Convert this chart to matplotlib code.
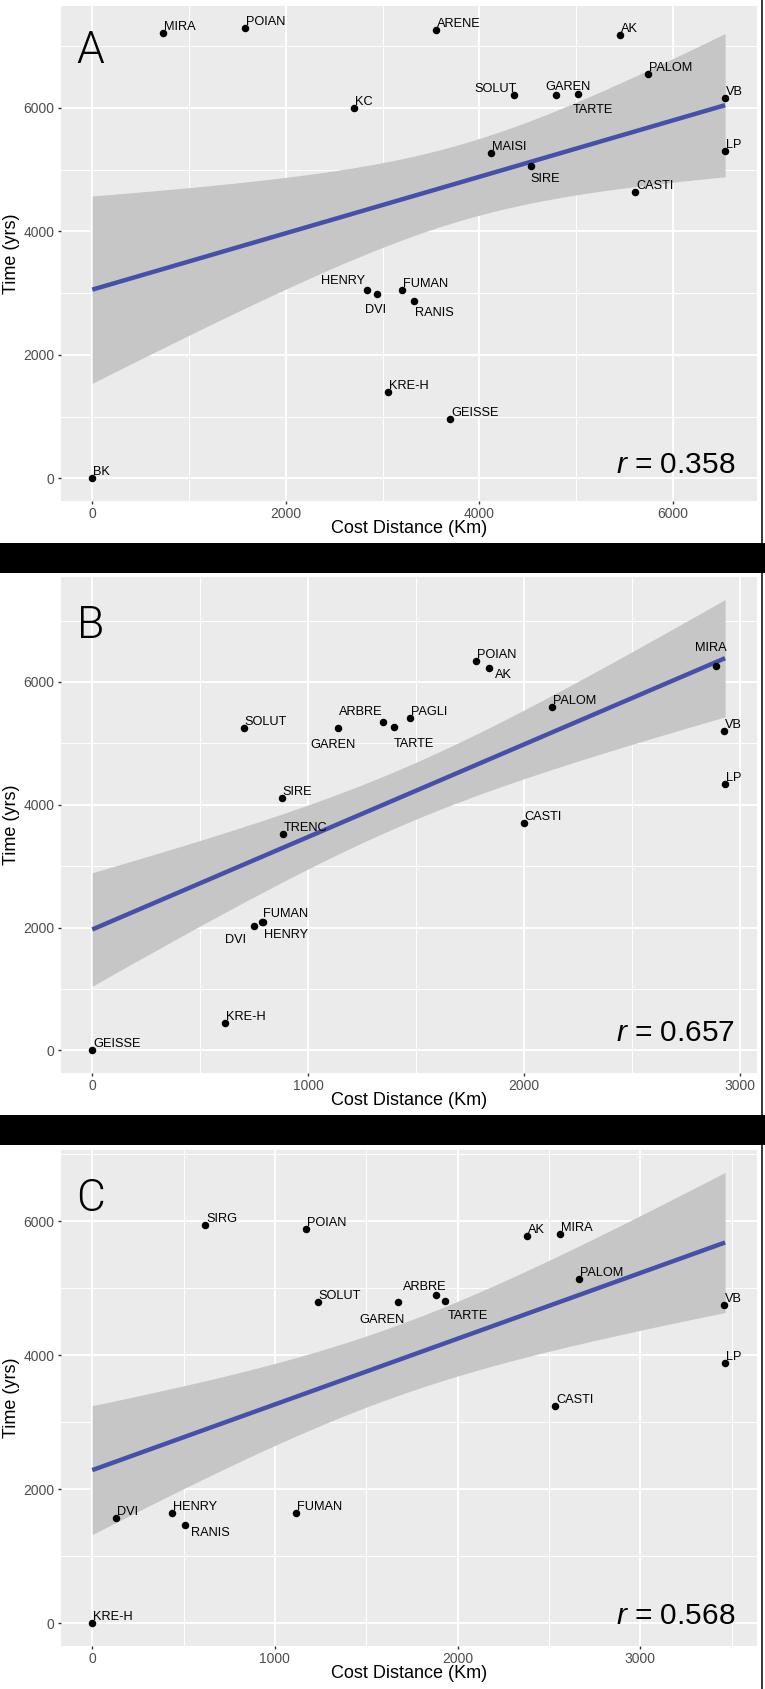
import numpy as np
import matplotlib.pyplot as plt
from matplotlib.patches import Rectangle
from matplotlib.ticker import MultipleLocator

plt.rcParams['font.family'] = ['Liberation Sans', 'DejaVu Sans']
plt.rcParams['mathtext.fontset'] = 'custom'
plt.rcParams['mathtext.it'] = 'Liberation Sans:italic'
plt.rcParams['mathtext.rm'] = 'Liberation Sans'

# Panel A
a_sites = ['MIRA', 'POIAN', 'ARENE', 'AK', 'PALOM', 'SOLUT', 'GAREN', 'TARTE', 'VB', 'KC', 'MAISI',
           'SIRE', 'LP', 'CASTI', 'HENRY', 'DVI', 'FUMAN', 'RANIS', 'KRE-H', 'GEISSE', 'BK']
a_dist = [735, 1575, 3553, 5455, 5742, 4353, 4791, 5013, 6537, 2703, 4122,
          4529, 6537, 5606, 2833, 2944, 3201, 3327, 3060, 3699, 0]
a_time = [7210, 7285, 7258, 7177, 6543, 6210, 6204, 6220, 6156, 6000, 5269,
          5065, 5301, 4645, 3051, 2981, 3051, 2873, 1407, 965, 0]

# Panel B
b_sites = ['POIAN', 'AK', 'MIRA', 'PALOM', 'SOLUT', 'ARBRE', 'GAREN', 'TARTE', 'PAGLI', 'VB',
           'LP', 'SIRE', 'CASTI', 'TRENC', 'FUMAN', 'HENRY', 'DVI', 'KRE-H', 'GEISSE']
b_dist = [1776, 1839, 2887, 2130, 701, 1345, 1136, 1397, 1472, 2923,
          2930, 877, 1997, 881, 786, 790, 747, 613, 0]
b_time = [6338, 6234, 6256, 5591, 5253, 5346, 5248, 5264, 5417, 5204,
          4338, 4109, 3700, 3526, 2091, 2085, 2026, 441, 0]

# Panel C
c_sites = ['SIRG', 'POIAN', 'AK', 'MIRA', 'PALOM', 'SOLUT', 'GAREN', 'ARBRE', 'TARTE', 'VB',
           'LP', 'CASTI', 'DVI', 'HENRY', 'RANIS', 'FUMAN', 'KRE-H']
c_dist = [618, 1170, 2377, 2563, 2665, 1234, 1671, 1881, 1932, 3456,
          3464, 2534, 131, 437, 506, 1114, 0]
c_time = [5945, 5890, 5780, 5810, 5145, 4805, 4800, 4895, 4815, 4750,
          3890, 3250, 1580, 1650, 1470, 1650, 0]

letters = ['A', 'B', 'C']
r_values = [0.358, 0.657, 0.568]

# label placement (ha, va, dx px, dy px); anything missing goes up-right of the point
default_pos = ('left', 'baseline', 1, 3)
a_pos = {'SOLUT': ('right', 'baseline', 3, 3), 'GAREN': ('left', 'baseline', -11, 5),
         'TARTE': ('left', 'top', -5, -10), 'SIRE': ('left', 'top', 0, -7),
         'HENRY': ('right', 'baseline', -1, 6), 'DVI': ('center', 'top', -2, -10),
         'RANIS': ('left', 'top', 1, -6)}
b_pos = {'AK': ('left', 'top', 6, -1), 'MIRA': ('center', 'baseline', -5, 15),
         'ARBRE': ('right', 'baseline', 0, 7), 'GAREN': ('center', 'top', -5, -11),
         'TARTE': ('left', 'top', 0, -11), 'HENRY': ('left', 'top', 1, -7),
         'DVI': ('right', 'top', -7, -8), 'FUMAN': ('left', 'baseline', 1, 5)}
c_pos = {'ARBRE': ('center', 'baseline', -11, 5), 'GAREN': ('center', 'top', -16, -12),
         'TARTE': ('left', 'top', 3, -9), 'RANIS': ('left', 'top', 6, -2)}

panels = [(a_sites, a_dist, a_time, a_pos, 2000),
          (b_sites, b_dist, b_time, b_pos, 1000),
          (c_sites, c_dist, c_time, c_pos, 1000)]

# axes boxes in figure fraction [left, bottom, width, height]
boxes = [[0.0792, 0.7034, 0.9100, 0.2931],
         [0.0792, 0.3647, 0.9100, 0.2937],
         [0.0792, 0.0255, 0.9100, 0.2937]]
r_ypos = [0.057, 0.0645, 0.045]
letter_ypos = [0.884, 0.876, 0.876]

# two-sided 80% t quantiles (the band in the figure is an 80% interval)
T80 = {13: 1.350, 14: 1.345, 15: 1.341, 16: 1.337, 17: 1.333, 18: 1.330, 19: 1.328, 20: 1.325}


def lm_band(x, y):
    x = np.asarray(x, float)
    y = np.asarray(y, float)
    n = len(x)
    b, a = np.polyfit(x, y, 1)
    resid = y - (a + b * x)
    s = np.sqrt(np.sum(resid ** 2) / (n - 2))
    sxx = np.sum((x - x.mean()) ** 2)
    xs = np.linspace(x.min(), x.max(), 80)
    fit = a + b * xs
    se = s * np.sqrt(1 / n + (xs - x.mean()) ** 2 / sxx)
    t = T80.get(n - 2, 1.33)
    return xs, fit, fit - t * se, fit + t * se


fig = plt.figure(figsize=(7.65, 16.89), dpi=100)

for i, (sites, dist, time, pos, xstep) in enumerate(panels):
    ax = fig.add_axes(boxes[i])
    ax.set_facecolor('#EBEBEB')
    xs, fit, lo, hi = lm_band(dist, time)

    ax.fill_between(xs, lo, hi, color='#C6C6C6', lw=0, zorder=2)
    ax.plot(xs, fit, color='#4650A6', lw=3.2, zorder=3, solid_capstyle='butt')
    ax.plot(dist, time, 'o', color='black', ms=4.4, zorder=4)

    for s, x, y in zip(sites, dist, time):
        ha, va, dx, dy = pos.get(s, default_pos)
        ax.annotate(s, (x, y), xytext=(dx, dy), textcoords='offset pixels',
                    ha=ha, va=va, fontsize=9.2, color='black', zorder=5)

    # ggplot style 5% expansion
    x0, x1 = min(dist), max(dist)
    y0, y1 = min(min(time), lo.min()), max(max(time), hi.max())
    ax.set_xlim(x0 - 0.05 * (x1 - x0), x1 + 0.05 * (x1 - x0))
    ax.set_ylim(y0 - 0.05 * (y1 - y0), y1 + 0.05 * (y1 - y0))

    ax.xaxis.set_major_locator(MultipleLocator(xstep))
    ax.xaxis.set_minor_locator(MultipleLocator(xstep / 2))
    ax.yaxis.set_major_locator(MultipleLocator(2000))
    ax.yaxis.set_minor_locator(MultipleLocator(1000))
    ax.grid(which='major', color='white', lw=1.4, zorder=0)
    ax.grid(which='minor', color='white', lw=0.7, zorder=0)
    ax.set_axisbelow(True)
    for sp in ax.spines.values():
        sp.set_visible(False)
    ax.tick_params(which='major', length=2.5, width=1, color='#333333',
                   labelcolor='#4D4D4D', labelsize=10, pad=2)
    ax.tick_params(which='minor', length=0)

    ax.set_xlabel('Cost Distance (Km)', fontsize=13)
    ax.set_ylabel('Time (yrs)', fontsize=13)
    ax.xaxis.set_label_coords(0.5, -0.038)
    ax.yaxis.set_label_coords(-0.058, 0.5)

    ax.text(0.023, letter_ypos[i], letters[i], transform=ax.transAxes, fontsize=32,
            family=['Roboto', 'Liberation Sans'], fontweight=300, ha='left', va='baseline')
    ax.text(0.969, r_ypos[i], r'$\mathit{r}$ = %.3f' % r_values[i], transform=ax.transAxes,
            fontsize=21.5, ha='right', va='baseline')

# black separators between the panels and the right border line
for y_bot in [0.6606, 0.3221]:
    fig.add_artist(Rectangle((0, y_bot), 1, 0.01776, transform=fig.transFigure,
                             color='black', lw=0))
fig.add_artist(plt.Line2D([0.9967, 0.9967], [0, 1], transform=fig.transFigure,
                          color='black', lw=1.1))

fig.savefig('out.png', dpi=100)
